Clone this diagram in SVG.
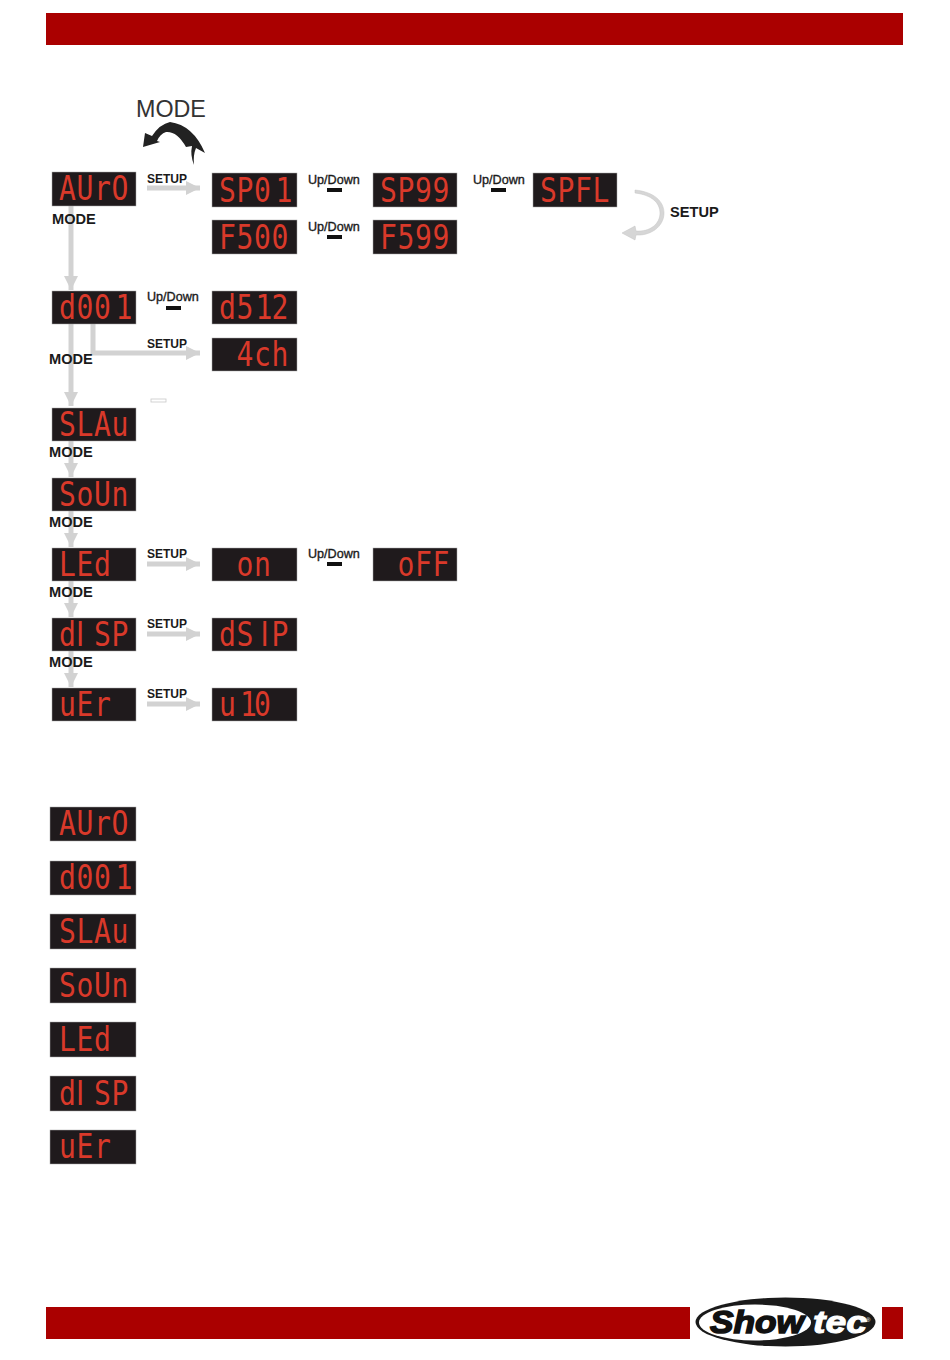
<svg xmlns="http://www.w3.org/2000/svg" width="950" height="1360" viewBox="0 0 950 1360">
<style>
.bar{fill:#aa0000}
.box{fill:#1f1a1c;stroke:#a9a9a9;stroke-width:.5}
.seg{font-family:"DejaVu Sans Mono",monospace;font-size:33px;fill:#d9392a;text-anchor:middle;transform:scale(.85,1)}
.bare{font-family:"DejaVu Sans",sans-serif}
.wire{fill:none;stroke:#d2d2d2;stroke-width:5}
.lbl{font-family:"Liberation Sans",Arial,sans-serif;font-weight:bold;fill:#1a1a1a}
.s{font-size:12px}.m{font-size:14.6px}
.ud{font-family:"Liberation Sans",Arial,sans-serif;font-size:12.6px;fill:#1a1a1a;stroke:#1a1a1a;stroke-width:.35}
.dash{fill:#111}
</style>
<defs>
<marker id="ah" markerUnits="userSpaceOnUse" markerWidth="15" markerHeight="16" refX="14" refY="8" orient="auto">
<path d="M0,1 L14,8 L0,15Z" fill="#d2d2d2"/>
</marker>
</defs>
<rect class="bar" x="46" y="13" width="857" height="32"/>
<rect class="bar" x="46" y="1307" width="644" height="32"/>
<rect class="bar" x="882" y="1307" width="21" height="32"/>

<g id="connectors">
<path class="wire" marker-end="url(#ah)" d="M71,206V290"/>
<path class="wire" marker-end="url(#ah)" d="M147,188H200"/>
<path class="wire" marker-end="url(#ah)" d="M71,324V406"/>
<path class="wire" marker-end="url(#ah)" d="M93,324V353H200"/>
<path class="wire" marker-end="url(#ah)" d="M71,441V477"/>
<path class="wire" marker-end="url(#ah)" d="M71,511V547"/>
<path class="wire" marker-end="url(#ah)" d="M71,581V617"/>
<path class="wire" marker-end="url(#ah)" d="M71,651V687"/>
<path class="wire" marker-end="url(#ah)" d="M147,564H200"/>
<path class="wire" marker-end="url(#ah)" d="M147,634H200"/>
<path class="wire" marker-end="url(#ah)" d="M147,704H200"/>
<path id="mode-loop" fill="#222" d="M143,147L145,133L152,136Q160,124 170,122Q193,125 205,153L196,148Q193,155 194,165Q190,155 192,146L186,147Q177,131 166,132Q160,134 157,141L160,142Z"/>
<path id="setup-loop" fill="#d6d6d6" stroke="#c4c4c4" stroke-width=".5" d="M635,190C655,192 664,202 664,213C664,227 650,236 636,235L635,240L622,233L635,226L636,231C650,232 660,224 660,213C660,203 652,195 635,193Z"/>
</g>

<rect id="tick" x="151" y="399" width="15" height="3" fill="#fff" stroke="#c8c8c8" stroke-width=".8"/>

<g id="auto" transform="translate(52,172)"><rect class="box" width="84" height="34"/><text class="seg" x="18.200 38.800 59.400 80" y="28">AUrO</text></g>
<g id="sp01" transform="translate(212,173)"><rect class="box" width="85" height="34"/><text class="seg" x="18.200 38.800 59.400 84.700" y="29">SP01</text></g>
<g id="sp99" transform="translate(373,173)"><rect class="box" width="84" height="34"/><text class="seg" x="18.200 38.800 59.400 80" y="29">SP99</text></g>
<g id="spfl" transform="translate(533,173)"><rect class="box" width="84" height="34"/><text class="seg" x="18.200 38.800 59.400 80" y="29">SPFL</text></g>
<g id="f500" transform="translate(212,220)"><rect class="box" width="85" height="34"/><text class="seg" x="18.200 38.800 59.400 80" y="29">F500</text></g>
<g id="f599" transform="translate(373,220)"><rect class="box" width="84" height="34"/><text class="seg" x="18.200 38.800 59.400 80" y="29">F599</text></g>
<g id="d001" transform="translate(52,291)"><rect class="box" width="84" height="33"/><text class="seg" x="18.200 38.800 59.400 84.700" y="28">d001</text></g>
<g id="d512" transform="translate(212,291)"><rect class="box" width="85" height="33"/><text class="seg" x="18.200 38.800 61 80" y="28">d512</text></g>
<g id="4ch" transform="translate(212,338)"><rect class="box" width="85" height="33"/><text class="seg" x="38.800 59.400 80" y="28">4ch</text></g>
<g id="slau" transform="translate(52,408)"><rect class="box" width="84" height="33"/><text class="seg" x="18.200 38.800 59.400 80" y="28">SLAu</text></g>
<g id="soun" transform="translate(52,478)"><rect class="box" width="84" height="33"/><text class="seg" x="18.200 38.800 59.400 80" y="28">SoUn</text></g>
<g id="led" transform="translate(52,548)"><rect class="box" width="84" height="33"/><text class="seg" x="18.200 38.800 59.400" y="28">LEd</text></g>
<g id="on" transform="translate(212,548)"><rect class="box" width="85" height="33"/><text class="seg" x="38.800 59.400" y="28">on</text></g>
<g id="off" transform="translate(373,548)"><rect class="box" width="84" height="33"/><text class="seg" x="38.800 59.400 80" y="28">oFF</text></g>
<g id="disp" transform="translate(52,618)"><rect class="box" width="84" height="33"/><text class="seg" x="18.200 33 59.400 80" y="28">d<tspan class="bare">I</tspan>SP</text></g>
<g id="dsip" transform="translate(212,618)"><rect class="box" width="85" height="33"/><text class="seg" x="18.200 38.800 62 80" y="28">dS<tspan class="bare">I</tspan>P</text></g>
<g id="ver" transform="translate(52,688)"><rect class="box" width="84" height="33"/><text class="seg" x="18.200 38.800 59.400" y="28">uEr</text></g>
<g id="v10" transform="translate(212,688)"><rect class="box" width="85" height="33"/><text class="seg" x="18.200 43 59.400" y="28">u10</text></g>

<g id="list-auto" transform="translate(50,807)"><rect class="box" width="86" height="34"/><text class="seg" x="20.600 41.200 61.800 82.400" y="28">AUrO</text></g>
<g id="list-d001" transform="translate(50,861)"><rect class="box" width="86" height="34"/><text class="seg" x="20.600 41.200 61.800 87" y="28">d001</text></g>
<g id="list-slau" transform="translate(50,914)"><rect class="box" width="86" height="35"/><text class="seg" x="20.600 41.200 61.800 82.400" y="29">SLAu</text></g>
<g id="list-soun" transform="translate(50,968)"><rect class="box" width="86" height="35"/><text class="seg" x="20.600 41.200 61.800 82.400" y="29">SoUn</text></g>
<g id="list-led" transform="translate(50,1022)"><rect class="box" width="86" height="35"/><text class="seg" x="20.600 41.200 61.800" y="29">LEd</text></g>
<g id="list-disp" transform="translate(50,1076)"><rect class="box" width="86" height="35"/><text class="seg" x="20.600 35.500 61.800 82.400" y="29">d<tspan class="bare">I</tspan>SP</text></g>
<g id="list-ver" transform="translate(50,1130)"><rect class="box" width="86" height="34"/><text class="seg" x="20.600 41.200 61.800" y="28">uEr</text></g>

<g id="labels">
<text x="136" y="117" font-family="Liberation Sans,Arial,sans-serif" font-size="23.3" fill="#333">MODE</text>
<text class="lbl s" x="147" y="183">SETUP</text>
<text class="lbl s" x="147" y="348">SETUP</text>
<text class="lbl s" x="147" y="558">SETUP</text>
<text class="lbl s" x="147" y="628">SETUP</text>
<text class="lbl s" x="147" y="698">SETUP</text>
<text class="lbl m" x="670" y="217">SETUP</text>
<text class="lbl m" x="52" y="224">MODE</text>
<text class="lbl m" x="49" y="364">MODE</text>
<text class="lbl m" x="49" y="457">MODE</text>
<text class="lbl m" x="49" y="527">MODE</text>
<text class="lbl m" x="49" y="597">MODE</text>
<text class="lbl m" x="49" y="667">MODE</text>
<text class="ud" x="308" y="184">Up/Down</text><rect class="dash" x="327" y="188" width="15" height="4"/>
<text class="ud" x="473" y="184">Up/Down</text><rect class="dash" x="491" y="188" width="15" height="4"/>
<text class="ud" x="308" y="231">Up/Down</text><rect class="dash" x="327" y="235" width="15" height="4"/>
<text class="ud" x="147" y="301">Up/Down</text><rect class="dash" x="166" y="306" width="15" height="4"/>
<text class="ud" x="308" y="558">Up/Down</text><rect class="dash" x="327" y="562" width="15" height="4"/>
</g>

<g id="logo">
<ellipse cx="785.500" cy="1322" rx="90" ry="24.500" fill="#1a1a1a"/>
<ellipse cx="755" cy="1322.500" rx="56" ry="18" fill="#fff"/>
<text x="710" y="1333" font-family="Liberation Sans,Arial,sans-serif" font-weight="bold" font-style="italic" font-size="32" stroke="#111" stroke-width="1.500" fill="#111" textLength="94" lengthAdjust="spacingAndGlyphs">Show</text>
<text x="813" y="1333" font-family="Liberation Sans,Arial,sans-serif" font-weight="bold" font-style="italic" font-size="32" stroke="#fff" stroke-width="1" fill="#fff" textLength="54" lengthAdjust="spacingAndGlyphs">tec</text>
<text x="866" y="1322" font-family="Liberation Sans,Arial,sans-serif" font-size="6" fill="#fff">®</text>
</g>
</svg>
